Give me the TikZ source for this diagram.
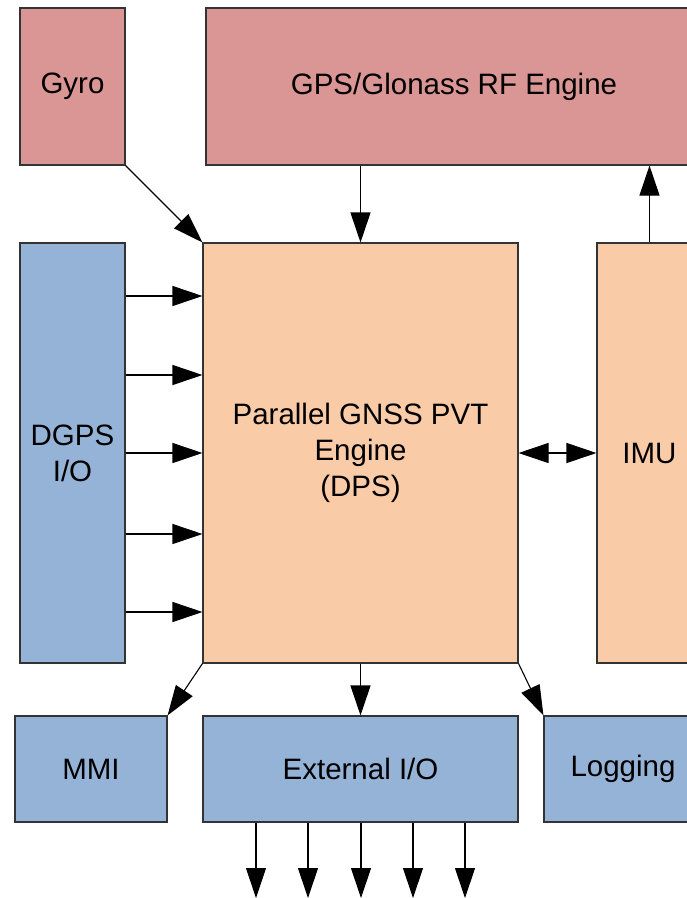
\documentclass[tikz,border=0pt]{standalone}
\usepackage{fontspec}
\setmainfont{Liberation Sans}
\usetikzlibrary{arrows.meta}
\definecolor{redbox}{HTML}{DA9694}
\definecolor{peachbox}{HTML}{F9CBA7}
\definecolor{bluebox}{HTML}{95B3D7}
\definecolor{edge}{HTML}{333333}
\tikzset{
  blk/.style={draw=edge, line width=1.1pt, rectangle, inner sep=0pt, align=center,
    font=\fontsize{29.5}{36}\selectfont},
  redblk/.style={blk, fill=redbox},
  peachblk/.style={blk, fill=peachbox},
  blueblk/.style={blk, fill=bluebox},
  arr/.style={draw=black, line width=1.1pt, -{Triangle[length=30pt,width=20pt]}},
  darr/.style={draw=black, line width=1.1pt, {Triangle[length=30pt,width=20pt]}-{Triangle[length=30pt,width=20pt]}}
}
\begin{document}
\begin{tikzpicture}[x=1pt,y=-1pt]
\useasboundingbox (0,0) rectangle (687,898);
\clip (0,0) rectangle (687,898);
\node[redblk, minimum width=105pt, minimum height=157pt] (gyro) at (72.5,86.5) {Gyro};
\node[redblk, minimum width=496pt, minimum height=157pt] (gps) at (454,86.5) {GPS/Glonass RF Engine};
\node[blueblk, minimum width=105pt, minimum height=420pt] (dgps) at (72.5,453) {DGPS\\I/O};
\node[peachblk, minimum width=315pt, minimum height=420pt] (dps) at (360.5,453) {Parallel GNSS PVT\\Engine\\(DPS)};
\node[peachblk, minimum width=105pt, minimum height=420pt] (imu) at (649.5,453) {IMU};
\node[blueblk, minimum width=152pt, minimum height=106pt] (mmi) at (91,769) {MMI};
\node[blueblk, minimum width=315pt, minimum height=106pt] (ext) at (360.5,769) {External I/O};
\node[blueblk, minimum width=158pt, minimum height=106pt] (log) at (623,769) {Logging};

\draw[arr] (gyro.south east) -- (dps.north west);
\draw[arr] (dps.north |- gps.south) -- (dps.north);
\draw[arr] (imu.north) -- (imu.north |- gps.south);
\foreach \yy in {296,375,453,534,612} {
  \draw[arr] (dgps.east |- {0,\yy}) -- (dps.west |- {0,\yy});
}
\draw[darr] (dps.east) -- (imu.west);
\draw[arr] (dps.south west) -- (mmi.north east);
\draw[arr] (dps.south) -- (ext.north);
\draw[arr] (dps.south east) -- (log.north west);
\foreach \xx [count=\i] in {256,308,361,413,465} {
  \coordinate (out\i) at (\xx,898);
  \draw[arr] (ext.south -| out\i) -- (out\i);
}
\end{tikzpicture}
\end{document}
